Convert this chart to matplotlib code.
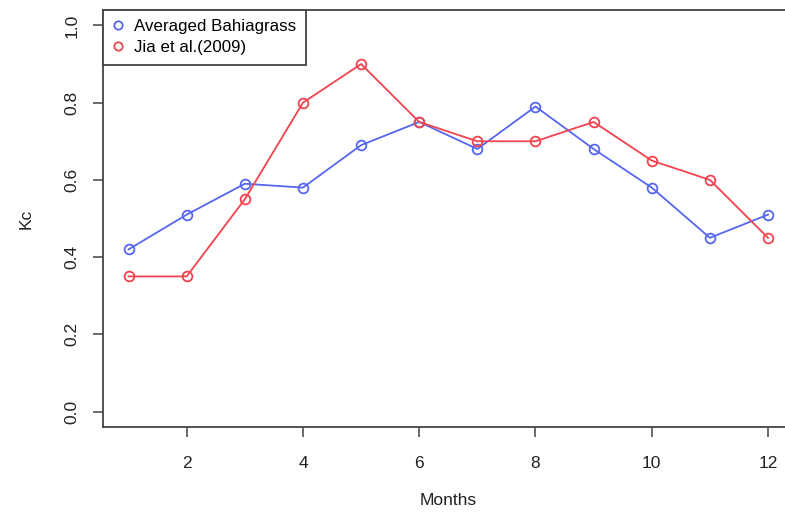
import matplotlib
matplotlib.use("Agg")
import matplotlib.pyplot as plt
from matplotlib.lines import Line2D

months = [1, 2, 3, 4, 5, 6, 7, 8, 9, 10, 11, 12]
bahiagrass = [0.42, 0.51, 0.59, 0.58, 0.69, 0.75, 0.68, 0.79, 0.68, 0.58, 0.45, 0.51]
jia2009 = [0.35, 0.35, 0.55, 0.80, 0.90, 0.75, 0.70, 0.70, 0.75, 0.65, 0.60, 0.45]
x_ticks = [2, 4, 6, 8, 10, 12]
y_ticks = [0.0, 0.2, 0.4, 0.6, 0.8, 1.0]
labels = ["Averaged Bahiagrass", "Jia et al.(2009)"]

plt.rcParams['font.family'] = ['Liberation Sans', 'DejaVu Sans']
blue = '#5566F0'
red = '#F2434E'
axcol = '#444444'

W, H = 785, 512
fig = plt.figure(figsize=(W / 100, H / 100), dpi=100)
left, right, top, bottom = 103, 793.6, 10, 427
ax = fig.add_axes([left / W, 1 - bottom / H, (right - left) / W, (bottom - top) / H])

ax.plot(months, bahiagrass, color=blue, lw=1.3, marker='o', ms=7, mfc='none', mew=1.3)
ax.plot(months, jia2009, color=red, lw=1.3, marker='o', ms=7, mfc='none', mew=1.3)

ax.set_xlim(0.56, 12.44)
ax.set_ylim(-0.04, 1.04)
ax.set_xticks(x_ticks)
ax.set_xticklabels([str(t) for t in x_ticks])
ax.set_yticks(y_ticks)
ax.set_yticklabels([f"{t:.1f}" for t in y_ticks], rotation=90, va='center')
ax.tick_params(axis='both', length=7, width=1.1, color=axcol, labelsize=12.5, labelcolor='#222222')
ax.tick_params(axis='x', pad=14)
ax.tick_params(axis='y', pad=10)
for s in ax.spines.values():
    s.set_color(axcol)
    s.set_linewidth(1.3)

ax.set_xlabel("Months", fontsize=12.5, labelpad=16, color='#222222')
ax.set_ylabel("Kc", fontsize=12.5, labelpad=22, color='#222222')

handles = [Line2D([], [], ls='none', marker='o', ms=6, mfc='none', mec=blue, mew=1.3),
           Line2D([], [], ls='none', marker='o', ms=6, mfc='none', mec=red, mew=1.3)]
leg = ax.legend(handles, labels, loc='upper left', bbox_to_anchor=(0, 1), borderaxespad=0,
                fontsize=12.2, fancybox=False, framealpha=1, edgecolor=axcol,
                handlelength=0.7, handletextpad=0.6, borderpad=0.55, labelspacing=0.35)
leg.get_frame().set_linewidth(1.3)

fig.savefig("out.png", dpi=100)
